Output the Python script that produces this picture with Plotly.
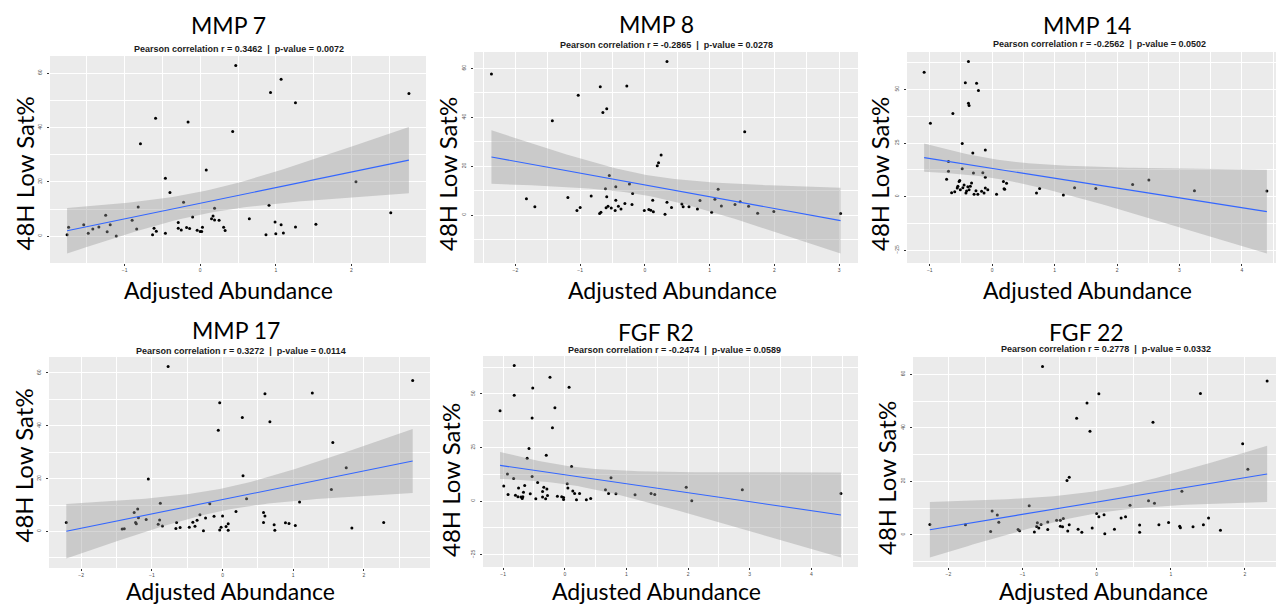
import numpy as np
import plotly.graph_objects as go

# ---------------- data ----------------
titles = ["MMP 7", "MMP 8", "MMP 14", "MMP 17", "FGF R2", "FGF 22"]
subtitles = [
    "Pearson correlation r = 0.3462  |  p-value = 0.0072",
    "Pearson correlation r = -0.2865  |  p-value = 0.0278",
    "Pearson correlation r = -0.2562  |  p-value = 0.0502",
    "Pearson correlation r = 0.3272  |  p-value = 0.0114",
    "Pearson correlation r = -0.2474  |  p-value = 0.0589",
    "Pearson correlation r = 0.2778  |  p-value = 0.0332",
]
x_label = "Adjusted Abundance"
y_label = "48H Low Sat%"

mmp7_x = [-1.76, -1.74, -1.54, -1.48, -1.42, -1.34, -1.25, -1.23, -1.19, -1.11, -0.90, -0.84, -0.82, -0.79,
          -0.63, -0.61, -0.59, -0.58, -0.46, -0.46, -0.40, -0.29, -0.29, -0.25, -0.22, -0.18, -0.16, -0.14,
          -0.10, -0.04, 0.00, 0.02, 0.03, 0.08, 0.15, 0.17, 0.19, 0.19, 0.25, 0.31, 0.33, 0.43, 0.47, 0.65,
          0.87, 0.91, 0.93, 0.99, 1.00, 1.07, 1.07, 1.10, 1.26, 1.26, 1.53, 2.06, 2.52, 2.76]
mmp7_y = [0.5, 3.3, 4.2, 1.1, 2.6, 3.4, 7.7, 1.6, 4.2, 0.1, 5.9, 2.6, 10.7, 34.0,
          0.5, 2.9, 43.4, 1.8, 21.3, 1.1, 16.1, 5.0, 2.9, 2.3, 12.5, 3.2, 42.0, 2.8,
          7.1, 2.2, 1.7, 1.7, 3.3, 24.3, 6.4, 7.4, 10.3, 6.0, 5.9, 3.3, 2.1, 38.5, 62.8, 6.4,
          0.5, 11.4, 52.8, 5.2, 0.9, 57.7, 4.2, 1.2, 49.1, 3.4, 4.4, 20.0, 8.6, 52.5]

mmp8_x = [-2.37, -1.83, -1.70, -1.43, -1.19, -1.05, -1.03, -1.00, -0.83, -0.70, -0.69, -0.68, -0.65, -0.61,
          -0.60, -0.59, -0.59, -0.57, -0.55, -0.52, -0.46, -0.45, -0.45, -0.41, -0.37, -0.31, -0.28, -0.24,
          -0.20, -0.19, -0.01, 0.06, 0.09, 0.12, 0.13, 0.19, 0.21, 0.25, 0.31, 0.34, 0.34, 0.41, 0.57, 0.59,
          0.68, 0.81, 0.85, 1.03, 1.08, 1.13, 1.18, 1.39, 1.47, 1.54, 1.60, 1.74, 1.99, 3.02]
mmp8_y = [57.7, 6.7, 3.5, 38.6, 7.2, 1.9, 49.0, 3.1, 7.9, 0.7, 52.5, 1.2, 42.0, 10.8,
          3.0, 7.5, 43.5, 3.7, 16.2, 2.9, 1.9, 6.1, 11.6, 3.7, 2.5, 4.8, 52.8, 12.8,
          4.4, 8.9, 1.9, 2.3, 2.0, 6.1, 1.4, 20.2, 21.4, 24.6, 0.4, 62.8, 5.3, 3.1, 4.6, 3.5,
          3.5, 2.5, 6.0, 1.2, 6.5, 10.6, 3.8, 4.4, 5.5, 34.1, 3.7, 0.8, 1.5, 0.7]

mmp14_x = [-1.09, -0.99, -0.73, -0.70, -0.70, -0.65, -0.63, -0.60, -0.56, -0.55, -0.53, -0.52, -0.51, -0.48,
           -0.48, -0.47, -0.45, -0.43, -0.42, -0.41, -0.39, -0.38, -0.38, -0.37, -0.37, -0.35, -0.33, -0.31,
           -0.30, -0.29, -0.26, -0.25, -0.23, -0.22, -0.17, -0.15, -0.13, -0.11, -0.11, -0.11, -0.07, 0.07,
           0.18, 0.19, 0.20, 0.23, 0.71, 0.76, 1.14, 1.32, 1.66, 2.25, 2.51, 3.24, 4.40]
mmp14_y = [58.0, 34.2, 8.1, 16.4, 11.8, 1.8, 38.8, 2.3, 4.0, 4.8, 7.1, 7.5, 3.2, 24.8,
           13.0, 4.1, 5.4, 53.1, 1.7, 2.6, 4.6, 63.0, 43.6, 42.5, 3.2, 4.8, 6.4, 20.4,
           11.0, 1.1, 2.8, 52.9, 1.1, 49.5, 2.5, 11.2, 1.7, 9.0, 21.8, 4.0, 3.2, 1.1,
           7.1, 3.7, 3.4, 6.3, 1.7, 3.8, 0.8, 4.1, 3.8, 5.7, 7.8, 2.8, 2.6]

mmp17_x = [-2.21, -1.42, -1.39, -1.25, -1.23, -1.22, -1.20, -1.19, -1.08, -1.05, -0.91, -0.89, -0.88, -0.85,
           -0.77, -0.66, -0.65, -0.60, -0.47, -0.42, -0.39, -0.36, -0.32, -0.27, -0.24, -0.18, -0.12, -0.06,
           -0.04, -0.04, -0.02, 0.00, 0.05, 0.08, 0.08, 0.19, 0.28, 0.29, 0.34, 0.58, 0.58, 0.60, 0.60, 0.67,
           0.73, 0.74, 0.89, 0.94, 1.03, 1.09, 1.27, 1.54, 1.56, 1.75, 1.83, 2.28, 2.69]
mmp17_y = [3.4, 0.9, 1.0, 7.2, 3.4, 2.9, 8.5, 5.2, 4.5, 19.9, 2.7, 4.3, 10.7, 2.1,
           62.4, 1.1, 3.4, 1.5, 1.6, 3.5, 2.0, 4.2, 6.3, 0.3, 5.1, 10.5, 5.8, 38.3,
           48.7, 0.6, 1.6, 5.9, 1.9, 2.9, 0.5, 7.6, 43.1, 21.1, 12.4, 3.4, 7.2, 52.1, 5.9, 41.5,
           2.5, 0.5, 3.3, 3.0, 2.3, 11.2, 52.4, 15.9, 33.7, 24.1, 1.3, 3.4, 57.1]

fgfr2_x = [-1.05, -0.99, -0.93, -0.92, -0.83, -0.82, -0.82, -0.80, -0.76, -0.75, -0.71, -0.69, -0.68, -0.67,
           -0.65, -0.61, -0.58, -0.56, -0.53, -0.53, -0.52, -0.47, -0.44, -0.36, -0.36, -0.34, -0.31, -0.30,
           -0.29, -0.28, -0.24, -0.20, -0.16, -0.12, -0.05, -0.02, -0.02, 0.04, 0.05, 0.07, 0.11, 0.13, 0.16,
           0.19, 0.24, 0.35, 0.42, 0.66, 0.71, 0.75, 0.83, 1.14, 1.40, 1.46, 1.97, 2.06, 2.88, 4.48]
fgfr2_y = [42.2, 7.1, 12.7, 3.1, 10.6, 63.2, 49.4, 2.8, 2.0, 6.1, 1.9, 1.2, 2.0, 4.2,
           7.3, 20.0, 24.5, 3.4, 11.5, 38.8, 52.8, 1.1, 8.7, 4.5, 1.9, 6.5, 1.1, 21.4,
           5.7, 2.6, 57.8, 34.2, 43.6, 2.3, 2.0, 0.8, 1.7, 8.1, 6.1, 53.1, 16.1, 4.7, 3.6,
           0.6, 3.6, 0.6, 1.2, 5.3, 3.6, 10.9, 3.4, 3.0, 3.6, 3.1, 6.5, 0.2, 5.3, 3.6]

fgf22_x = [-2.25, -1.77, -1.43, -1.41, -1.34, -1.32, -1.06, -1.04, -0.91, -0.84, -0.81, -0.80, -0.78, -0.75,
           -0.73, -0.66, -0.66, -0.54, -0.49, -0.49, -0.46, -0.45, -0.40, -0.39, -0.37, -0.37, -0.27, -0.25,
           -0.20, -0.13, -0.09, -0.06, 0.00, 0.03, 0.03, 0.10, 0.11, 0.24, 0.33, 0.39, 0.45, 0.58, 0.58,
           0.70, 0.76, 0.78, 0.84, 0.97, 1.12, 1.13, 1.15, 1.30, 1.40, 1.44, 1.51, 1.67, 1.97, 2.04, 2.30]
fgf22_y = [3.8, 3.7, 1.2, 8.9, 7.4, 4.7, 2.0, 1.5, 10.8, 1.0, 3.1, 4.5, 2.5, 3.8,
           62.9, 2.0, 4.8, 5.4, 5.4, 3.2, 3.0, 6.1, 20.3, 1.4, 21.5, 3.7, 43.6, 2.1,
           0.9, 49.3, 38.7, 2.5, 7.9, 6.7, 52.7, 7.5, 0.4, 2.1, 6.3, 6.7, 11.0, 0.9, 3.6,
           12.7, 42.1, 11.8, 3.7, 4.6, 3.2, 2.6, 16.3, 3.0, 52.8, 3.7, 6.3, 1.7, 34.0, 24.5, 57.5]

xs_all = [mmp7_x, mmp8_x, mmp14_x, mmp17_x, fgfr2_x, fgf22_x]
ys_all = [mmp7_y, mmp8_y, mmp14_y, mmp17_y, fgfr2_y, fgf22_y]
y_dtick = [20, 20, 25, 20, 25, 20]

# ---------------- layout (window pixels) ----------------
WIN_W, WIN_H = 1284, 604
OFF = 8  # page body margin
W, H = WIN_W - OFF, WIN_H - OFF
# plot boxes: x0, x1, ytop, ybottom (window pixels)
boxes = [(50, 426, 56, 263), (474, 858, 52, 263), (907, 1284, 52, 263),
         (49, 430, 357, 568), (483, 858, 356, 567), (913, 1284, 357, 567)]
title_pos = [(228, 25), (656, 24), (1087, 25), (236, 330), (656, 332), (1086, 332)]
sub_pos = [(239, 49), (667, 45), (1099, 44), (241, 351), (674, 350), (1106, 349)]
xt_pos = [(228, 290), (672, 290), (1087, 290), (230, 591), (656, 591), (1103, 591)]
yt_pos = [(23.5, 174), (447, 174), (879, 174), (23.5, 466), (450, 480), (886, 478)]

T975 = 2.003


def fit_band(x, y, n=80):
    x = np.asarray(x, float)
    y = np.asarray(y, float)
    N = len(x)
    xm = x.mean()
    sxx = ((x - xm) ** 2).sum()
    b = ((x - xm) * (y - y.mean())).sum() / sxx
    a = y.mean() - b * xm
    s = np.sqrt(((y - (a + b * x)) ** 2).sum() / (N - 2))
    xs = np.linspace(x.min(), x.max(), n)
    fit = a + b * xs
    se = s * np.sqrt(1.0 / N + (xs - xm) ** 2 / sxx)
    return xs, fit, fit - T975 * se, fit + T975 * se


def px(x):
    return min(max((x - OFF) / W, 0), 1)


def py(y):
    return min(max(1 - (y - OFF) / H, 0), 1)


fig = go.Figure()
annotations = []
layout_axes = {}

for i in range(6):
    k = "" if i == 0 else str(i + 1)
    xa, ya = "x" + k, "y" + k
    x = np.asarray(xs_all[i], float)
    y = np.asarray(ys_all[i], float)
    xs, fit, lo, hi = fit_band(x, y)

    fig.add_trace(go.Scatter(x=x, y=y, mode="markers", xaxis=xa, yaxis=ya,
                             marker=dict(color="black", size=3), showlegend=False,
                             hoverinfo="skip"))
    fig.add_trace(go.Scatter(x=np.concatenate([xs, xs[::-1]]), y=np.concatenate([hi, lo[::-1]]),
                             mode="lines", fill="toself", fillcolor="rgba(153,153,153,0.4)",
                             line=dict(width=0), xaxis=xa, yaxis=ya, showlegend=False,
                             hoverinfo="skip"))
    fig.add_trace(go.Scatter(x=xs, y=fit, mode="lines", line=dict(color="#3366FF", width=1.1),
                             xaxis=xa, yaxis=ya, showlegend=False, hoverinfo="skip"))

    xspan = x.max() - x.min()
    xr = [x.min() - 0.05 * xspan, x.max() + 0.05 * xspan]
    ylo = min(y.min(), lo.min())
    yhi = max(y.max(), hi.max())
    yspan = yhi - ylo
    yr = [ylo - 0.05 * yspan, yhi + 0.05 * yspan]

    x0, x1, yt, yb = boxes[i]
    common = dict(showgrid=True, gridcolor="white", gridwidth=1, zeroline=False,
                  ticks="outside", ticklen=2, tickcolor="#333333", tickwidth=0.6,
                  tickfont=dict(family="Liberation Sans", size=5, color="#4D4D4D"),
                  tickmode="linear", tick0=0, showline=False, fixedrange=True)
    layout_axes["xaxis" + k] = dict(common, domain=[px(x0), px(x1)], range=xr, dtick=1,
                                    anchor=ya,
                                    minor=dict(tick0=0, dtick=0.5, showgrid=True, gridcolor="white",
                                               gridwidth=0.5, ticks=""))
    layout_axes["yaxis" + k] = dict(common, domain=[py(yb), py(yt)], range=yr, dtick=y_dtick[i],
                                    anchor=xa, tickangle=-90, ticklabelstandoff=3,
                                    minor=dict(tick0=0, dtick=y_dtick[i] / 2, showgrid=True,
                                               gridcolor="white", gridwidth=0.5, ticks=""))

    tx, ty = title_pos[i]
    annotations.append(dict(text=titles[i], x=px(tx), y=py(ty), xref="paper", yref="paper",
                            xanchor="center", yanchor="middle", showarrow=False,
                            font=dict(family="Lato", size=23, color="black")))
    sx, sy = sub_pos[i]
    annotations.append(dict(text="<b>" + subtitles[i] + "</b>", x=px(sx), y=py(sy), xref="paper",
                            yref="paper", xanchor="center", yanchor="middle", showarrow=False,
                            font=dict(family="Liberation Sans", size=9, color="#1A1A1A")))
    ax_, ay_ = xt_pos[i]
    annotations.append(dict(text=x_label, x=px(ax_), y=py(ay_), xref="paper", yref="paper",
                            xanchor="center", yanchor="middle", showarrow=False,
                            font=dict(family="Lato", size=23, color="black")))
    yx, yy = yt_pos[i]
    annotations.append(dict(text=y_label, x=px(yx), y=py(yy), xref="paper", yref="paper",
                            xanchor="center", yanchor="middle", showarrow=False, textangle=-90,
                            font=dict(family="Lato", size=24, color="black")))

fig.update_layout(width=W, height=H, margin=dict(l=0, r=0, t=0, b=0),
                  paper_bgcolor="white", plot_bgcolor="#EBEBEB",
                  annotations=annotations, **layout_axes)

fig.write_html("out.html")
